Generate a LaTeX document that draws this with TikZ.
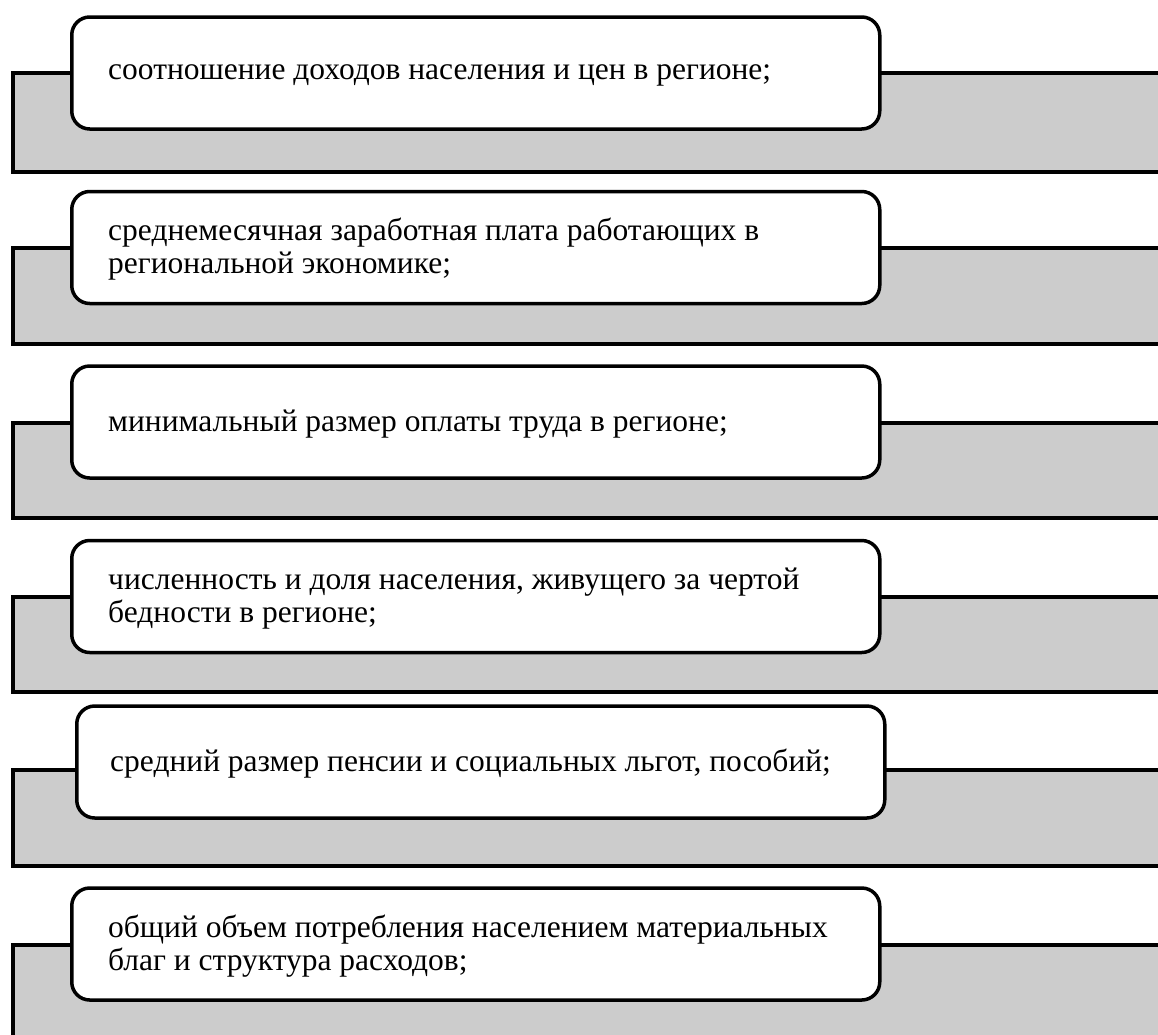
\documentclass[tikz,border=0pt]{standalone}
\usepackage{fontspec}
\setmainfont{Liberation Serif}
\newfontfamily\itemfont{Liberation Serif}
\definecolor{bandgray}{HTML}{CCCCCC}
\begin{document}
\begin{tikzpicture}[x=1pt,y=-1pt,
  bandline/.style={line width=3.5pt, line join=miter},
  itembox/.style={draw, line width=3.5pt, fill=white, rounded corners=18pt,
    minimum height=112pt, minimum width=808pt, inner sep=0pt, anchor=west},
  itemtext/.style={inner sep=0pt, align=left, anchor=west,
    font=\itemfont\fontsize{31.5}{33}\selectfont}]
\useasboundingbox (0,0) rectangle (1158,1034);
% bands: top, bottom
\foreach \t/\b [count=\i] in {73/172, 248/344, 423/518, 597/692, 770/866, 945/1050}{
  \fill[bandgray] (13,\t) rectangle (1160,\b);
  \draw[bandline] (1160,\t) -- (13,\t) -- (13,\b) -- (1160,\b);
}
\node[itembox] (b1) at (70,73) {};
\node[itembox] (b2) at (70,247.5) {};
\node[itembox] (b3) at (70,422) {};
\node[itembox] (b4) at (70,596.5) {};
\node[itembox] (b5) at (75,762) {};
\node[itembox] (b6) at (70,944) {};
\node[itemtext] (t1) at (108,75) {соотношение доходов населения и цен в регионе;};
\node[itemtext] (t2) at (108,249.5) {среднемесячная заработная плата работающих в\\региональной экономике;};
\node[itemtext] (t3) at (108,424) {минимальный размер оплаты труда в регионе;};
\node[itemtext] (t4) at (108,598.5) {численность и доля населения, живущего за чертой\\бедности в регионе;};
\node[itemtext] (t5) at (110,764) {средний размер пенсии и социальных льгот, пособий;};
\node[itemtext] (t6) at (108,946) {общий объем потребления населением материальных\\благ и структура расходов;};
\end{tikzpicture}
\end{document}
